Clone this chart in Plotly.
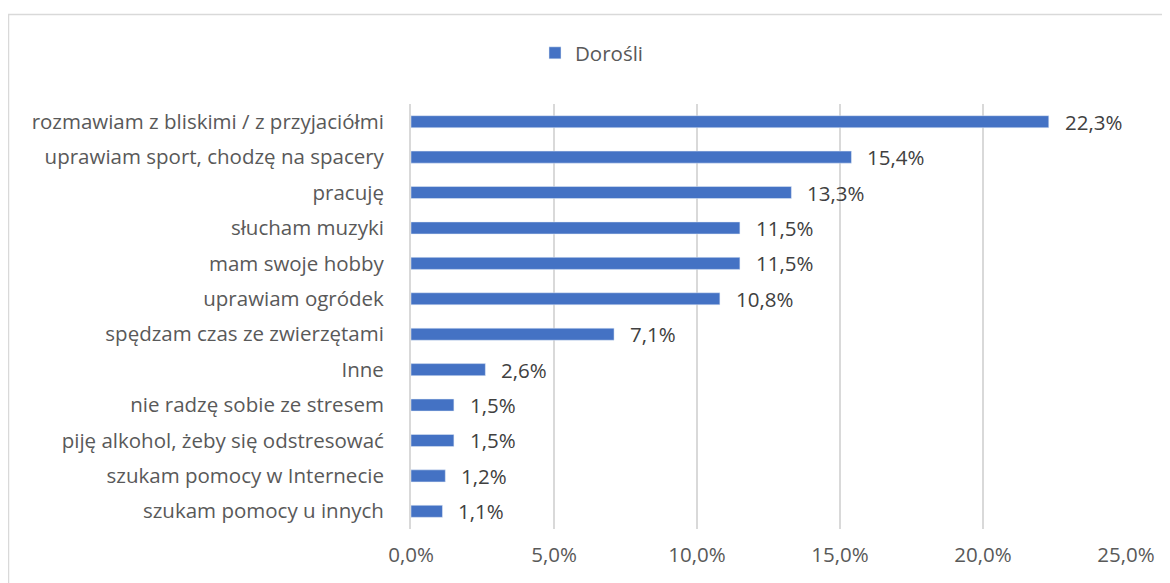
import plotly.graph_objects as go

categories = [
    "rozmawiam z bliskimi / z przyjaciółmi",
    "uprawiam sport, chodzę na spacery",
    "pracuję",
    "słucham muzyki",
    "mam swoje hobby",
    "uprawiam ogródek",
    "spędzam czas ze zwierzętami",
    "Inne",
    "nie radzę sobie ze stresem",
    "piję alkohol, żeby się odstresować",
    "szukam pomocy w Internecie",
    "szukam pomocy u innych",
]
values = [22.3, 15.4, 13.3, 11.5, 11.5, 10.8, 7.1, 2.6, 1.5, 1.5, 1.2, 1.1]
series_name = "Dorośli"
tick_vals = [0, 5, 10, 15, 20, 25]
tick_text = ["0,0%", "5,0%", "10,0%", "15,0%", "20,0%", "25,0%"]

FONT = "Open Sans"
FS = 20.5
BAR = "#4472C4"
GRID = "#d9d9d9"

cats_rev = categories[::-1]
vals_rev = values[::-1]

fig = go.Figure()
fig.add_trace(go.Bar(
    y=cats_rev, x=vals_rev, orientation="h", name=series_name,
    marker=dict(color=BAR), showlegend=True,
))

for c, v in zip(cats_rev, vals_rev):
    fig.add_annotation(
        x=v, y=c, xref="x", yref="y", text=f"{v:.1f}%".replace(".", ","),
        showarrow=False, xanchor="left", xshift=14,
        font=dict(family=FONT, size=FS, color="#404040"),
    )

# page has an 8px body margin
OFF = 8
W, H = 1170 - OFF, 583 - OFF
L, T = 411 - OFF, 104 - OFF
pw, ph = 715, 425
R, B = W - L - pw, H - T - ph

def px2x(px):
    return (px - OFF - L) / pw

def py2y(py):
    return (T + ph - (py - OFF)) / ph

fig.add_shape(type="rect", xref="paper", yref="paper",
              x0=px2x(8.5), x1=px2x(1200), y0=py2y(14.5), y1=py2y(640),
              line=dict(color=GRID, width=1.5), fillcolor="rgba(0,0,0,0)", layer="below")

fig.update_layout(
    width=W, height=H,
    margin=dict(l=L, r=R, t=T, b=B),
    paper_bgcolor="white", plot_bgcolor="white",
    bargap=0.66,
    font=dict(family=FONT, size=FS, color="#595959"),
    legend=dict(orientation="h", x=px2x(592), xanchor="center", y=py2y(53), yanchor="middle",
                font=dict(family=FONT, size=FS, color="#595959"), itemwidth=30),
    xaxis=dict(range=[0, 25], tickvals=tick_vals, ticktext=tick_text,
               showgrid=True, gridcolor=GRID, gridwidth=2, zeroline=False,
               showline=False, ticks="", ticklabelstandoff=11,
               tickfont=dict(family=FONT, size=FS, color="#595959")),
    yaxis=dict(showgrid=False, showline=True, linecolor=GRID, linewidth=2,
               ticks="", ticklabelstandoff=21,
               tickfont=dict(family=FONT, size=FS, color="#595959")),
)

fig.write_html("out.html")
